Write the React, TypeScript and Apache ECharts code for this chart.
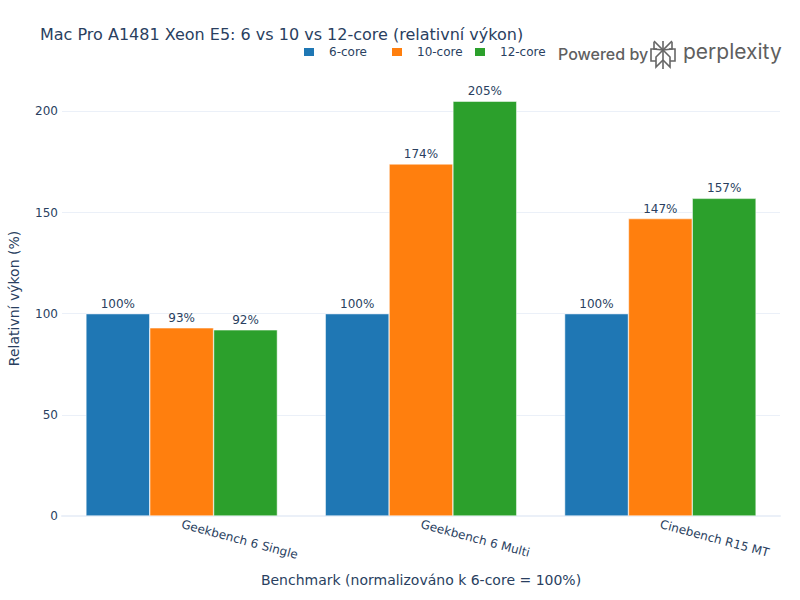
import React, { useEffect, useRef } from "react";
import * as echarts from "echarts";

const categories = ["Geekbench 6 Single", "Geekbench 6 Multi", "Cinebench R15 MT"];
const seriesNames = ["6-core", "10-core", "12-core"];
const core6 = [100, 100, 100];
const core10 = [93, 174, 147];
const core12 = [92, 205, 157];
const colors = ["#1f77b4", "#ff7f0e", "#2ca02c"];

const FONT = "DejaVu Sans, Verdana, sans-serif";
const TXT = "#2a3f5f";
const GRIDC = "#ebf0f8";
const legendLefts = [302, 390, 473];

export default function App() {
  const ref = useRef<HTMLDivElement>(null);
  useEffect(() => {
    if (!ref.current) return;
    const chart = echarts.init(ref.current, undefined, { renderer: "svg" });
    const data = [core6, core10, core12];
    const logoStroke = { stroke: "#666", lineWidth: 1.6, fill: "none" };
    chart.setOption({
      animation: false,
      backgroundColor: "#fff",
      textStyle: { fontFamily: FONT },
      title: {
        text: "Mac Pro A1481 Xeon E5: 6 vs 10 vs 12-core (relativní výkon)",
        left: 40,
        top: 26,
        padding: 0,
        textStyle: { fontFamily: FONT, fontSize: 16, fontWeight: "normal", color: TXT },
      },
      legend: seriesNames.map((name, i) => ({
        data: [name],
        left: legendLefts[i],
        top: 46,
        padding: 0,
        itemWidth: 12,
        itemHeight: 10,
        icon: "rect",
        textStyle: { fontFamily: FONT, fontSize: 12, color: TXT, padding: [0, 0, 0, 9] },
      })),
      grid: { left: 62, right: 20, top: 81, bottom: 84, containLabel: false, outerBoundsMode: "none" },
      xAxis: {
        type: "category",
        data: categories,
        name: "Benchmark (normalizováno k 6-core = 100%)",
        nameLocation: "middle",
        nameGap: 57,
        nameTextStyle: { fontFamily: FONT, fontSize: 14, color: TXT },
        axisLine: { show: true, lineStyle: { color: GRIDC, width: 2 } },
        axisTick: { show: false },
        axisLabel: { rotate: -15, color: TXT, fontSize: 12, fontFamily: FONT, margin: 8 },
      },
      yAxis: {
        type: "value",
        min: 0,
        max: 215,
        interval: 50,
        name: "Relativní výkon (%)",
        nameLocation: "middle",
        nameGap: 41,
        nameTextStyle: { fontFamily: FONT, fontSize: 14, color: TXT },
        axisLine: { show: false },
        axisTick: { show: false },
        axisLabel: {
          color: TXT,
          fontSize: 12,
          fontFamily: FONT,
          margin: 4,
          showMaxLabel: false,
        },
        splitLine: {
          lineStyle: {
            color: ["rgba(0,0,0,0)", GRIDC, GRIDC, GRIDC, GRIDC, "rgba(0,0,0,0)"],
            width: 1,
          },
        },
      },
      series: seriesNames.map((name, i) => ({
        name,
        type: "bar",
        data: data[i],
        barGap: "0%",
        barCategoryGap: "20%",
        itemStyle: { color: colors[i], borderColor: "#fff", borderWidth: 0.5 },
        label: {
          show: true,
          position: "top",
          distance: 4,
          formatter: "{c}%",
          color: TXT,
          fontSize: 12,
          fontFamily: FONT,
        },
      })),
      graphic: [
        {
          type: "text",
          left: 558,
          top: 46,
          style: { text: "Powered by", fontSize: 16, fontFamily: "Inter, sans-serif", fontWeight: 500, fill: "#5f5f5f" },
        },
        {
          type: "text",
          left: 683,
          top: 41,
          style: { text: "perplexity", fontSize: 21, fontFamily: "Inter, sans-serif", fill: "#5f5f5f" },
        },
        { type: "line", shape: { x1: 663, y1: 41, x2: 663, y2: 69 }, style: logoStroke },
        { type: "polyline", shape: { points: [[654, 41], [663, 50], [672, 41]] }, style: logoStroke },
        { type: "polyline", shape: { points: [[654, 42], [654, 49], [663, 50], [672, 49], [672, 42]] }, style: logoStroke },
        { type: "polyline", shape: { points: [[657, 49], [651, 49], [651, 61], [656, 61]] }, style: logoStroke },
        { type: "polyline", shape: { points: [[669, 49], [675, 49], [675, 61], [670, 61]] }, style: logoStroke },
        { type: "polyline", shape: { points: [[663, 50], [656, 57], [656, 67], [663, 60]] }, style: logoStroke },
        { type: "polyline", shape: { points: [[663, 50], [670, 57], [670, 67], [663, 60]] }, style: logoStroke },
      ],
    });
    return () => chart.dispose();
  }, []);
  return <div ref={ref} style={{ position: "fixed", left: 0, top: 0, width: 800, height: 600 }} />;
}
